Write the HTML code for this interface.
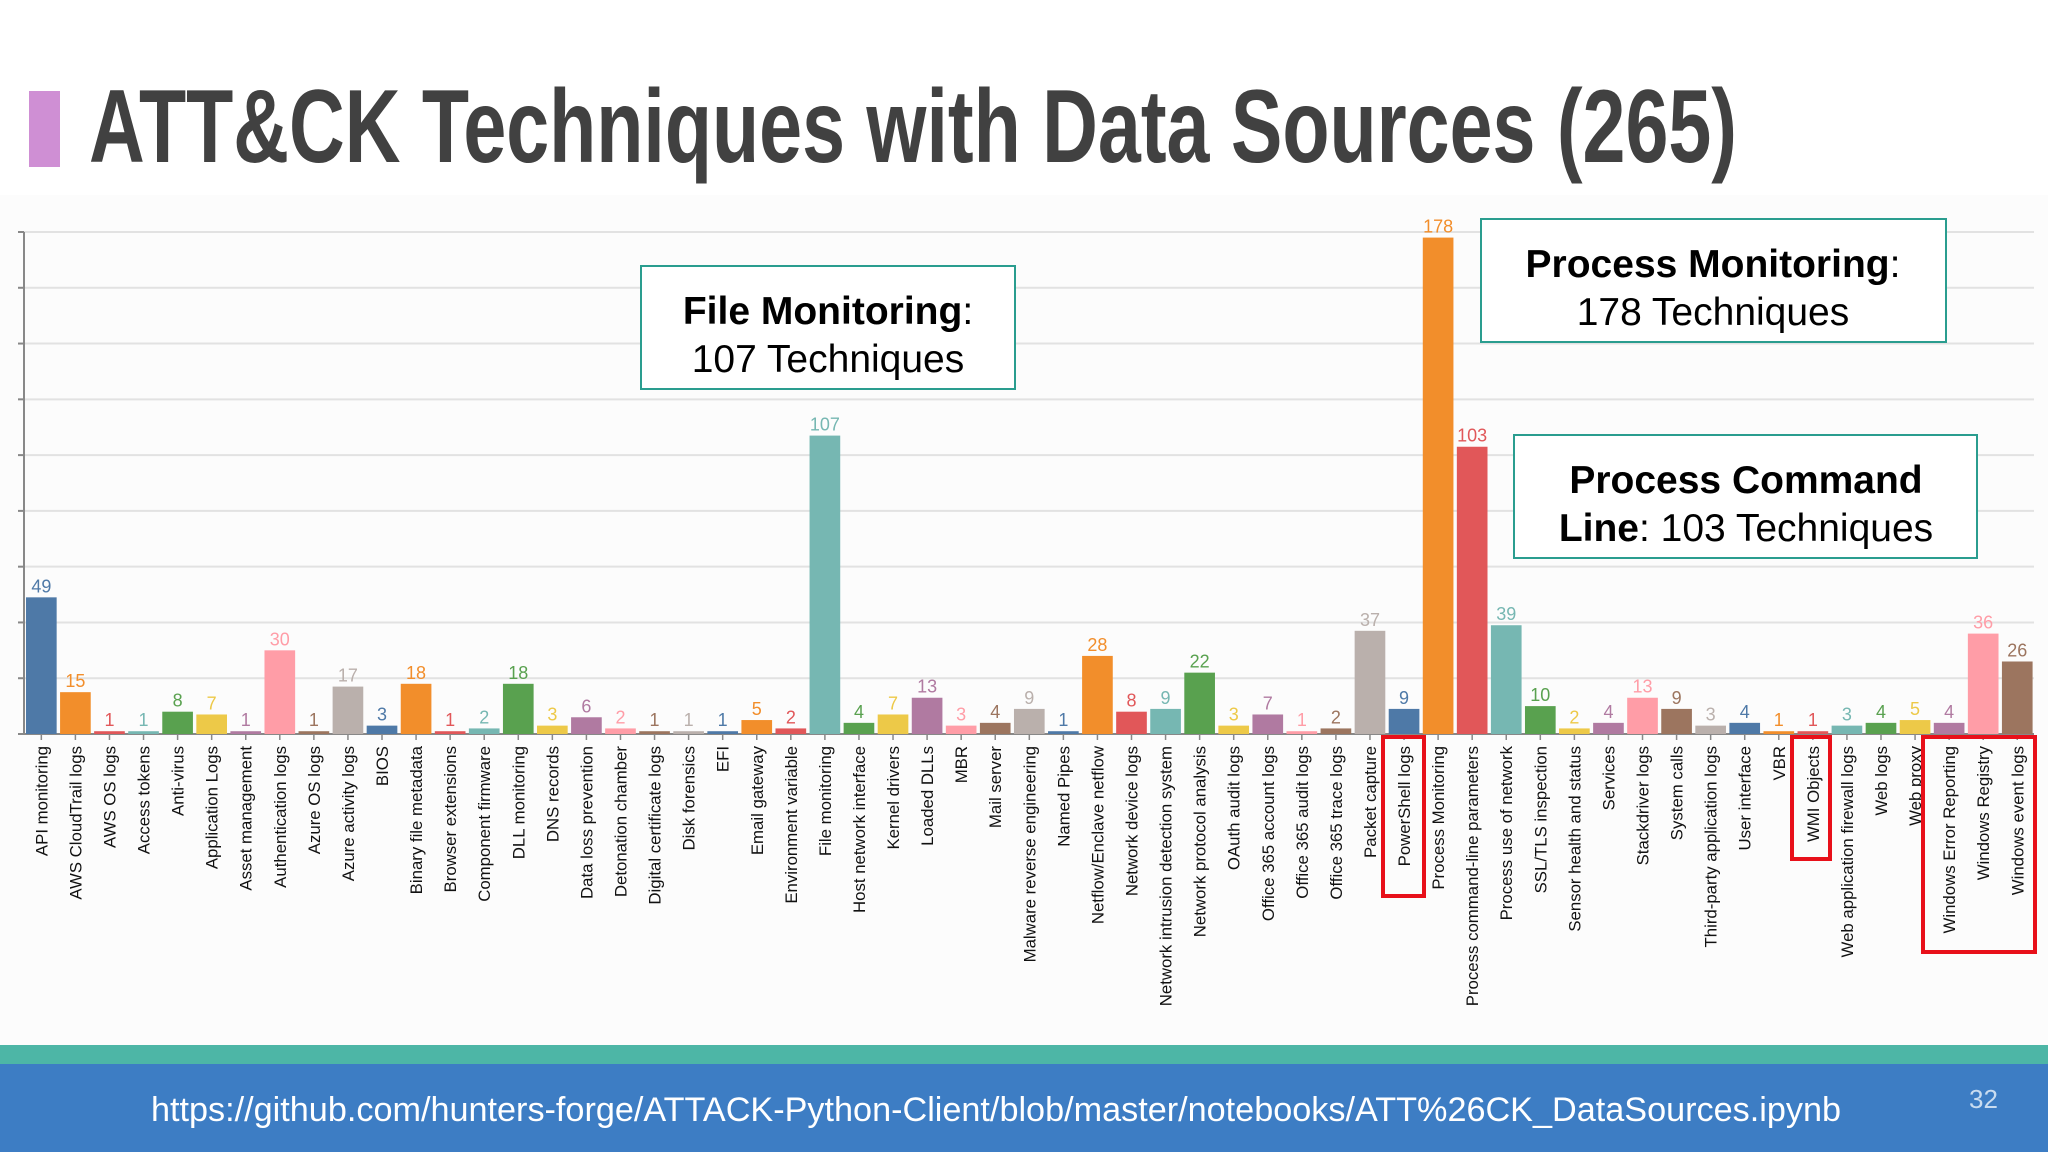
<!DOCTYPE html>
<html><head><meta charset="utf-8">
<style>
html,body{margin:0;padding:0;width:2048px;height:1152px;overflow:hidden;background:#fff;font-family:"Liberation Sans",sans-serif;}
#slide{position:relative;width:2048px;height:1152px;}
</style></head>
<body>
<div id="slide">
<svg id="chart" width="2048" height="1152" xmlns="http://www.w3.org/2000/svg">
  <rect x="0" y="195" width="2048" height="850" fill="#fcfcfc"/>
  <rect x="29" y="91" width="31" height="76" fill="#cf8fd4"/>
  <text x="89" y="162" font-family="Liberation Sans" font-weight="bold" font-size="104" fill="#414141" textLength="1648" lengthAdjust="spacingAndGlyphs">ATT&amp;CK Techniques with Data Sources (265)</text>
  <g id="grid"></g>
  <g id="bars"></g>
  <g id="labels"></g>
  <rect x="641" y="266" width="374" height="123" fill="#fff" stroke="#2a9d8f" stroke-width="2"/>
  <text x="828" y="324" text-anchor="middle" font-size="39" fill="#000"><tspan font-weight="bold">File Monitoring</tspan>:</text>
  <text x="828" y="372" text-anchor="middle" font-size="39" fill="#000">107 Techniques</text>
  <rect x="1481" y="219" width="465" height="123" fill="#fff" stroke="#2a9d8f" stroke-width="2"/>
  <text x="1713" y="277" text-anchor="middle" font-size="39" fill="#000"><tspan font-weight="bold">Process Monitoring</tspan>:</text>
  <text x="1713" y="325" text-anchor="middle" font-size="39" fill="#000">178 Techniques</text>
  <rect x="1514" y="435" width="463" height="123" fill="#fff" stroke="#2a9d8f" stroke-width="2"/>
  <text x="1746" y="493" text-anchor="middle" font-size="39" font-weight="bold" fill="#000">Process Command</text>
  <text x="1746" y="541" text-anchor="middle" font-size="39" fill="#000"><tspan font-weight="bold">Line</tspan>: 103 Techniques</text>
  <rect x="1383" y="737" width="41" height="159" fill="none" stroke="#e8101a" stroke-width="4"/>
  <rect x="1792" y="737" width="38" height="122" fill="none" stroke="#e8101a" stroke-width="4"/>
  <rect x="1923" y="737" width="112" height="215" fill="none" stroke="#e8101a" stroke-width="4"/>
  <rect x="0" y="1045" width="2048" height="20" fill="#4db6a6"/>
  <rect x="0" y="1064" width="2048" height="88" fill="#3d7dc4"/>
  <text x="151" y="1121" font-size="34" fill="#fff" textLength="1690" lengthAdjust="spacingAndGlyphs">https://github.com/hunters-forge/ATTACK-Python-Client/blob/master/notebooks/ATT%26CK_DataSources.ipynb</text>
  <text x="1969" y="1108" font-size="26" fill="#c9dcf0">32</text>
</svg>
</div>
<script>
const categories = ["API monitoring","AWS CloudTrail logs","AWS OS logs","Access tokens","Anti-virus","Application Logs","Asset management","Authentication logs","Azure OS logs","Azure activity logs","BIOS","Binary file metadata","Browser extensions","Component firmware","DLL monitoring","DNS records","Data loss prevention","Detonation chamber","Digital certificate logs","Disk forensics","EFI","Email gateway","Environment variable","File monitoring","Host network interface","Kernel drivers","Loaded DLLs","MBR","Mail server","Malware reverse engineering","Named Pipes","Netflow/Enclave netflow","Network device logs","Network intrusion detection system","Network protocol analysis","OAuth audit logs","Office 365 account logs","Office 365 audit logs","Office 365 trace logs","Packet capture","PowerShell logs","Process Monitoring","Process command-line parameters","Process use of network","SSL/TLS inspection","Sensor health and status","Services","Stackdriver logs","System calls","Third-party application logs","User interface","VBR","WMI Objects","Web application firewall logs","Web logs","Web proxy","Windows Error Reporting","Windows Registry","Windows event logs"];
const techniqueCounts = [49,15,1,1,8,7,1,30,1,17,3,18,1,2,18,3,6,2,1,1,1,5,2,107,4,7,13,3,4,9,1,28,8,9,22,3,7,1,2,37,9,178,103,39,10,2,4,13,9,3,4,1,1,3,4,5,4,36,26];
const gridTicks = [0,20,40,60,80,100,120,140,160,180];
const palette = ["#4e79a7","#f28e2b","#e15759","#76b7b2","#59a14f","#edc948","#b07aa1","#ff9da7","#9c755f","#bab0ac"];

const NS = "http://www.w3.org/2000/svg";
const plotLeft = 24, plotRight = 2034, baseY = 734, topY = 232, yMax = 180;
const step = (plotRight - plotLeft) / categories.length;
function yScale(v){ return baseY - v * (baseY - topY) / yMax; }
function xScale(i){ return plotLeft + i * step; }
function mk(tag, attrs){ const e = document.createElementNS(NS, tag); for (const k in attrs) e.setAttribute(k, attrs[k]); return e; }

const grid = document.getElementById('grid');
gridTicks.forEach(t => {
  const y = yScale(t);
  if (t > 0) {
    const l = mk('line', {x1: plotLeft, x2: plotRight, y1: y, y2: y, stroke: '#e2e2e2', 'stroke-width': 2});
    
    
    grid.appendChild(l);
  }
  const tk = mk('line', {x1: plotLeft - 6, x2: plotLeft, y1: y, y2: y, stroke: '#888', 'stroke-width': 2});
  
  
  grid.appendChild(tk);
});
const yAxis = mk('line', {x1: plotLeft, x2: plotLeft, y1: topY, y2: baseY, stroke: '#888', 'stroke-width': 2});


grid.appendChild(yAxis);
const xAxis = mk('line', {x1: plotLeft - 6, x2: plotRight, y1: baseY, y2: baseY, stroke: '#888', 'stroke-width': 2});


grid.appendChild(xAxis);

const bars = document.getElementById('bars');
const labels = document.getElementById('labels');
categories.forEach((c, i) => {
  const v = techniqueCounts[i];
  const col = palette[i % palette.length];
  const x = xScale(i) + 2;
  const w = step * 0.9;
  const y = yScale(v);
  const r = mk('rect', {x: x, y: y, width: w, height: baseY - y, fill: col});
  
  
  bars.appendChild(r);
  const vt = mk('text', {x: x + w / 2, y: y - 5, 'text-anchor': 'middle', 'font-size': 18, fill: col});
  vt.textContent = v;
  
  
  labels.appendChild(vt);
  const cx = x + w / 2;
  const tk = mk('line', {x1: cx, x2: cx, y1: baseY, y2: baseY + 6, stroke: '#888', 'stroke-width': 1.5});
  
  
  labels.appendChild(tk);
  const lt = mk('text', {x: 0, y: 0, 'text-anchor': 'end', 'font-size': 16.8, fill: '#111', transform: 'translate(' + (cx + 6) + ',' + (baseY + 12) + ') rotate(-90)'});
  lt.textContent = c;
  
  
  labels.appendChild(lt);
});
</script>
</body></html>
